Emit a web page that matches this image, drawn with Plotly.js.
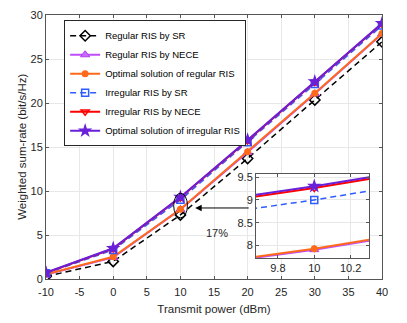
<!DOCTYPE html>
<html>
<head>
<meta charset="utf-8">
<script src="https://cdn.plot.ly/plotly-3.0.1.min.js"></script>
<style>
  html, body { margin: 0; padding: 0; background: #fff; }
  #chart { width: 407px; height: 323px; }
</style>
</head>
<body>
<div id="chart"></div>
<script>
// transmit power (dBm)
var power = [-10, 0, 10, 20, 30, 40];

// weighted sum-rate (bit/s/Hz)
var regularSR = [0.3, 2.0, 7.28, 13.7, 20.35, 26.95];
var regularNECE = [0.5, 2.45, 7.91, 14.4, 21.05, 27.85];
var regularOpt = [0.55, 2.53, 7.93, 14.47, 21.1, 27.9];
var irregularSR = [0.65, 3.3, 9.0, 15.55, 22.15, 28.8];
var irregularNECE = [0.7, 3.45, 9.26, 15.75, 22.38, 29.0];
var irregularOpt = [0.72, 3.49, 9.3, 15.8, 22.42, 29.05];

var names = [
    'Regular RIS by SR',
    'Regular RIS by NECE',
    'Optimal solution of regular RIS',
    'Irregular RIS by SR',
    'Irregular RIS by NECE',
    'Optimal solution of irregular RIS'
];

// tick labels (plain hyphen like the original)
var xTicks = [-10, -5, 0, 5, 10, 15, 20, 25, 30, 35, 40];
var xTickText = ['-10', '-5', '0', '5', '10', '15', '20', '25', '30', '35', '40'];
var insetXTicks = [9.8, 10, 10.2];
var insetYTicks = [8, 8.5, 9, 9.5];

var gapLabel = '17%';
var yTitle = 'Weighted sum-rate (bit/s/Hz)';

var series = [regularSR, regularNECE, regularOpt, irregularSR, irregularNECE, irregularOpt];

var styles = [
    {line: {color: '#000000', width: 1.5, dash: '6px,4px'},
     marker: {symbol: 'diamond-open', size: 8, color: '#000000', line: {width: 1.5}}},
    {line: {color: '#c04cff', width: 2},
     marker: {symbol: 'triangle-up', size: 8, color: '#c86bff', line: {color: '#b03cf0', width: 1}}},
    {line: {color: '#ff6a1a', width: 2},
     marker: {symbol: 'circle', size: 7, color: '#ff6a1a'}},
    {line: {color: '#2f5cff', width: 1.5, dash: '6px,4px'},
     marker: {symbol: 'square-open', size: 7, color: '#2f5cff', line: {width: 1.5}}},
    {line: {color: '#ff0000', width: 2},
     marker: {symbol: 'triangle-down-open', size: 7, color: '#ff0000', line: {width: 1.5}}},
    {line: {color: '#6a1fd8', width: 2},
     marker: {symbol: 'star', size: 11, color: '#6a1fd8'}}
];

var data = [];

// main plot
for (var i = 0; i < series.length; i++) {
    data.push({
        x: power,
        y: series[i],
        name: names[i],
        type: 'scatter',
        mode: 'lines+markers',
        line: styles[i].line,
        marker: styles[i].marker,
        xaxis: 'x',
        yaxis: 'y'
    });
}

// zoomed inset around 10 dBm
for (var j = 0; j < series.length; j++) {
    data.push({
        x: power,
        y: series[j],
        type: 'scatter',
        mode: 'lines+markers',
        line: styles[j].line,
        marker: styles[j].marker,
        showlegend: false,
        xaxis: 'x2',
        yaxis: 'y2'
    });
}

var tickFont = {family: 'Liberation Sans, Arial, sans-serif', size: 11, color: '#262626'};

var layout = {
    width: 407,
    height: 323,
    margin: {l: 46, r: 25, t: 15, b: 44},
    paper_bgcolor: '#ffffff',
    plot_bgcolor: '#ffffff',
    font: {family: 'Liberation Sans, Arial, sans-serif', color: '#262626'},
    showlegend: true,
    legend: {
        x: 0.054, y: 0.98,
        xanchor: 'left', yanchor: 'top',
        bgcolor: '#ffffff',
        bordercolor: '#262626',
        borderwidth: 1,
        font: {size: 9.5, color: '#000000'},
        itemwidth: 30
    },
    xaxis: {
        domain: [0, 1],
        range: [-10, 40],
        tickvals: xTicks,
        ticktext: xTickText,
        ticks: 'inside',
        ticklen: 3,
        tickcolor: '#555',
        ticklabelstandoff: 3,
        showline: true,
        linecolor: '#555',
        mirror: 'ticks',
        showgrid: true,
        gridcolor: '#e8e8e8',
        zeroline: false,
        tickfont: tickFont,
        title: {text: 'Transmit power (dBm)', font: {size: 11.5, color: '#262626'}, standoff: 7}
    },
    yaxis: {
        domain: [0, 1],
        range: [0, 30],
        dtick: 5,
        ticks: 'inside',
        ticklen: 3,
        tickcolor: '#555',
        showline: true,
        linecolor: '#555',
        mirror: 'ticks',
        showgrid: true,
        gridcolor: '#e8e8e8',
        zeroline: false,
        tickfont: tickFont
    },
    xaxis2: {
        domain: [0.625, 0.961],
        anchor: 'y2',
        range: [9.68, 10.3],
        tickvals: insetXTicks,
        ticktext: ['9.8', '10', '10.2'],
        ticks: 'inside',
        ticklen: 3,
        tickcolor: '#555',
        showline: true,
        linecolor: '#555',
        mirror: 'ticks',
        showgrid: true,
        gridcolor: '#e8e8e8',
        zeroline: false,
        tickfont: tickFont
    },
    yaxis2: {
        domain: [0.08, 0.398],
        anchor: 'x2',
        range: [7.73, 9.57],
        tickvals: insetYTicks,
        ticktext: ['8', '8.5', '9', '9.5'],
        ticks: 'inside',
        ticklen: 3,
        tickcolor: '#555',
        showline: true,
        linecolor: '#555',
        mirror: 'ticks',
        showgrid: true,
        gridcolor: '#e8e8e8',
        zeroline: false,
        tickfont: tickFont
    },
    shapes: [
        // white background for the inset
        {type: 'rect', xref: 'x2', yref: 'y2', x0: 9.68, x1: 10.3, y0: 7.73, y1: 9.57,
         fillcolor: '#ffffff', line: {width: 0}, layer: 'below'},
        // ellipse marking the zoomed region
        {type: 'circle', xref: 'x', yref: 'y', x0: 9.0, x1: 11.05, y0: 6.95, y1: 9.75,
         line: {color: '#000000', width: 1}}
    ],
    annotations: [
        // y axis title, placed closer to the tick labels than plotly would
        {x: -0.072, y: 0.5, xref: 'paper', yref: 'paper', text: yTitle, textangle: -90,
         showarrow: false, xanchor: 'center', yanchor: 'middle',
         font: {size: 11.5, color: '#262626'}},
        {x: 12.2, y: 8.07, xref: 'x', yref: 'y', text: '', showarrow: true,
         ax: 55, ay: 0, arrowhead: 2, arrowsize: 1.3, arrowwidth: 1, arrowcolor: '#000000'},
        {x: 15.45, y: 5.2, xref: 'x', yref: 'y', text: gapLabel, showarrow: false,
         font: {size: 11, color: '#262626'}}
    ]
};

Plotly.newPlot('chart', data, layout, {displayModeBar: false, staticPlot: true});
</script>
</body>
</html>
